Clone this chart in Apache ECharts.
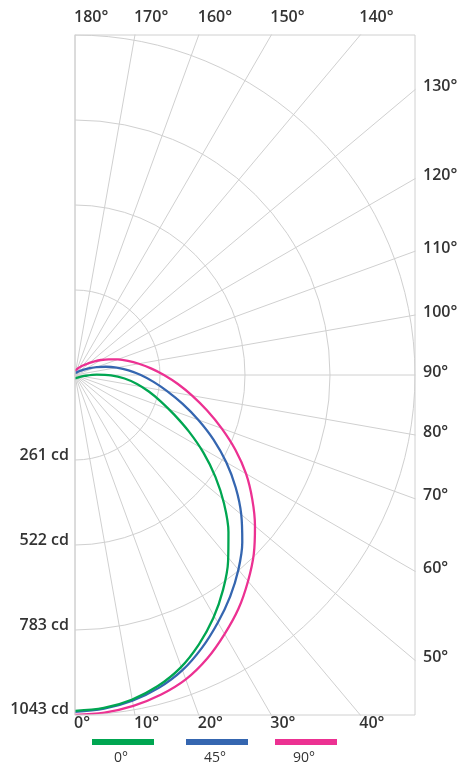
<!DOCTYPE html>
<html><head><meta charset="utf-8">
<script src="https://cdn.jsdelivr.net/npm/echarts@6/dist/echarts.min.js"></script>
<style>html,body{margin:0;padding:0;background:#fff}#c{width:458px;height:765px}</style>
</head><body><div id="c"></div>
<script>
// ---- data ----
const angles = [0,5,10,15,20,25,30,35,40,45,50,55,60,65,70,75,80,85,90,95,100,105,110,115,120,125,130,135,140,145,150,155,160,165,170,175,180];
const plane0  = [1020,1015,1001,978,945,900,849,792,731,666,597,526,455,386,324,273,230,191,152,111,68,30,8,0,0,0,0,0,0,0,0,0,0,0,0,0,0];
const plane45 = [1034,1028,1015,994,964,923,877,830,780,726,666,602,536,469,403,342,288,242,202,165,130,98,71,50,35,25,19,15,12,10,9,8,7,6,6,5,5];
const plane90 = [1043,1040,1031,1016,994,960,918,875,826,776,721,664,606,543,479,419,365,317,273,234,199,168,140,114,92,73,58,46,38,32,27,23,20,17,15,14,13];
const seriesNames = ['0°','45°','90°'];
const seriesColors = ['#00A651','#3566B0','#EC3192'];
const radiusTicks = [261, 522, 783, 1043];
const radiusMax = 1043.4;
const angleTicks = [0,10,20,30,40,50,60,70,80,90,100,110,120,130,140,150,160,170,180];

// ---- layout ----
const W = 458, H = 765;
const cx = 75, cy = 375, R = 340;
const box = {l: cx, t: cy - R, r: cx + R, b: cy + R};
const Rbig = Math.ceil(Math.sqrt(2) * R) + 2;
const gridColor = '#d0d0d0';
const textColor = '#333333';
const font = '"Open Sans", "Noto Sans", sans-serif';
const legendX = [92, 186, 275];

const chart = echarts.init(document.getElementById('c'), null, {renderer: 'canvas'});
const angleBase = {type: 'value', min: 0, max: 180, startAngle: -90, endAngle: 90, clockwise: false};

const planes = [plane0, plane45, plane90];
const polarFor = [2, 1, 1];
const zFor = [5, 4, 3];

const option = {
  animation: false,
  backgroundColor: '#fff',
  polar: [
    {center: [cx, cy], radius: Rbig},
    {center: [cx, cy], radius: R},
    {center: [cx, cy + 3.5], radius: R}
  ],
  angleAxis: [
    Object.assign({}, angleBase, {polarIndex: 0, interval: 10,
      axisLine: {show: false}, axisTick: {show: false}, axisLabel: {show: false},
      splitLine: {show: true, lineStyle: {color: gridColor, width: 1}}}),
    Object.assign({}, angleBase, {polarIndex: 1, show: false}),
    Object.assign({}, angleBase, {polarIndex: 2, show: false})
  ],
  radiusAxis: [
    {polarIndex: 0, type: 'value', min: 0, max: 1, show: false},
    {polarIndex: 1, type: 'value', min: 0, max: radiusMax, interval: radiusMax / 4,
      axisLine: {show: false}, axisTick: {show: false}, axisLabel: {show: false},
      splitLine: {show: true, lineStyle: {color: gridColor, width: 1}}},
    {polarIndex: 2, type: 'value', min: 0, max: radiusMax, show: false}
  ],
  series: planes.map((vals, i) => ({
    type: 'line', name: seriesNames[i], coordinateSystem: 'polar', polarIndex: polarFor[i],
    data: angles.map((a, j) => [vals[j], a]),
    smooth: 0.35, symbol: 'none', z: zFor[i],
    lineStyle: {color: seriesColors[i], width: 2.3},
    itemStyle: {color: seriesColors[i]}
  }))
};
chart.setOption(option);

// ---- decorations built from axes ----
const g = [];
g.push({type: 'rect', z: 100, silent: true, shape: {x: 0, y: 0, width: W, height: box.t - 0.5}, style: {fill: '#fff'}});
g.push({type: 'rect', z: 100, silent: true, shape: {x: box.r + 0.5, y: 0, width: W, height: H}, style: {fill: '#fff'}});
g.push({type: 'rect', z: 100, silent: true, shape: {x: 0, y: box.b + 0.5, width: W, height: H}, style: {fill: '#fff'}});
g.push({type: 'rect', z: 101, silent: true, shape: {x: box.l, y: box.t, width: box.r - box.l, height: box.b - box.t},
  style: {fill: 'none', stroke: gridColor, lineWidth: 1}});

function txt(x, y, text, align, size, weight) {
  return {type: 'text', z: 102, silent: true, x: x, y: y,
    style: {text: text, fill: textColor, fontSize: size, fontWeight: weight, fontFamily: font,
      align: align, textAlign: align, verticalAlign: 'middle', textVerticalAlign: 'middle'}};
}

angleTicks.forEach(a => {
  const p = chart.convertToPixel({polarIndex: 0}, [1, a]);
  const dx = p[0] - cx, dy = p[1] - cy;
  let best = Infinity, edge = null;
  if (dy > 1e-6) { const t = (box.b - cy) / dy; if (t < best) { best = t; edge = 'b'; } }
  if (dy < -1e-6) { const t = (box.t - cy) / dy; if (t < best) { best = t; edge = 't'; } }
  if (dx > 1e-6) { const t = (box.r - cx) / dx; if (t < best) { best = t; edge = 'r'; } }
  const ix = cx + dx * best, iy = cy + dy * best;
  const label = a + '°';
  if (edge === 'b') g.push(txt(ix - 1, box.b + 8, label, 'left', 16, 600));
  else if (edge === 't') g.push(txt(ix - 1, box.t - 18, label, 'left', 16, 600));
  else g.push(txt(box.r + 8, iy - 3, label, 'left', 16, 600));
});

radiusTicks.forEach(v => {
  const p = chart.convertToPixel({polarIndex: 1}, [v, 0]);
  g.push(txt(cx - 6, p[1] - 5, v + ' cd', 'right', 16, 600));
});

seriesNames.forEach((n, i) => {
  g.push({type: 'rect', z: 102, silent: true, shape: {x: legendX[i], y: 739, width: 62, height: 6}, style: {fill: seriesColors[i]}});
  g.push(txt(legendX[i] + 29, 758, n, 'center', 14, 400));
});

chart.setOption({graphic: {elements: g}});
</script>
</body></html>
